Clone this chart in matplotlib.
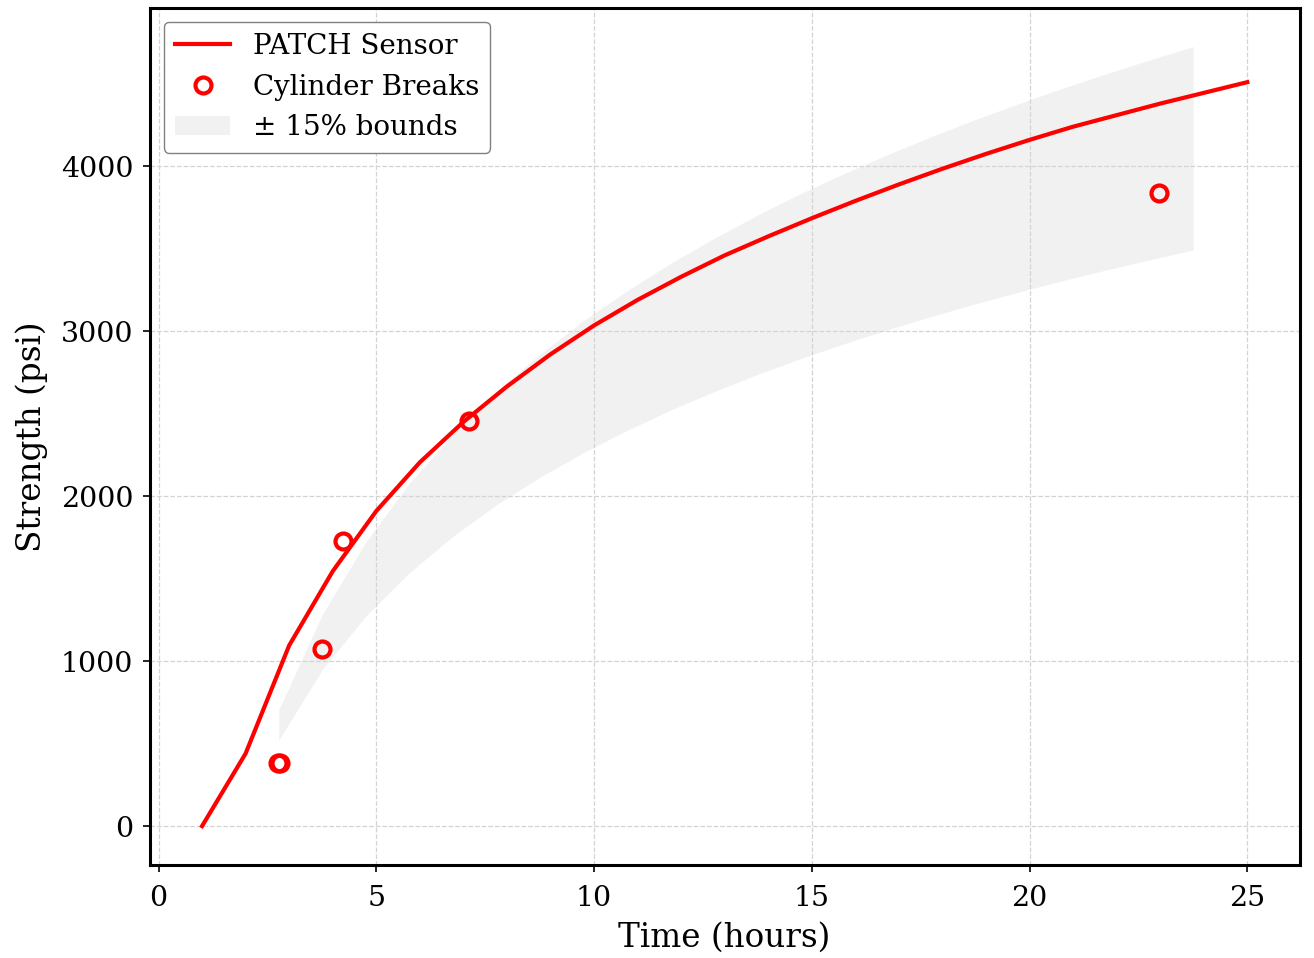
import matplotlib.pyplot as plt

plt.rcParams['font.family'] = 'DejaVu Serif'

# PATCH sensor readings (hours, psi)
sensor_hours = list(range(1, 26))
sensor_psi = [0, 440, 1095, 1545, 1910, 2205, 2450, 2665, 2860, 3035,
              3190, 3330, 3460, 3575, 3685, 3790, 3890, 3985, 4075, 4160,
              4240, 4310, 4380, 4445, 4510]

# cylinder break tests
break_hours = [2.75, 2.8, 3.76, 4.24, 7.12, 22.98]
break_psi = [384, 384, 1071, 1731, 2458, 3840]

# reference curve for the +/- 15% band
band_hours = [2.76, 3.76, 4.76, 5.76, 6.76, 7.76, 8.76, 9.76, 10.76, 11.76,
              12.76, 13.76, 14.76, 15.76, 16.76, 17.76, 18.76, 19.76, 20.76,
              21.76, 22.76, 23.76]
band_psi = [613, 1115, 1498, 1807, 2067, 2292, 2488, 2664, 2822, 2967,
            3099, 3222, 3336, 3442, 3542, 3636, 3725, 3809, 3890, 3966,
            4039, 4109]
tolerance = 0.15

fig, ax = plt.subplots(figsize=(13.14, 9.58), dpi=100)
fig.subplots_adjust(left=0.114, right=0.989, top=0.992, bottom=0.097)

lower = [v * (1 - tolerance) for v in band_psi]
upper = [v * (1 + tolerance) for v in band_psi]
ax.fill_between(band_hours, lower, upper, color='lightgray', alpha=0.3,
                linewidth=0, label='± 15% bounds')
ax.plot(sensor_hours, sensor_psi, color='red', linewidth=3, label='PATCH Sensor')
ax.plot(break_hours, break_psi, linestyle='none', marker='o', markersize=11.5,
        markerfacecolor='none', markeredgecolor='red', markeredgewidth=3,
        label='Cylinder Breaks')

ax.set_xlabel('Time (hours)', fontsize=23.5, labelpad=7)
ax.set_ylabel('Strength (psi)', fontsize=23.5, labelpad=9)
ax.tick_params(labelsize=20.5, width=1.2, length=5, pad=7)
ax.tick_params(axis='x', pad=9)
ax.grid(True, linestyle='--', color='lightgray', linewidth=0.9)
for s in ax.spines.values():
    s.set_linewidth(2.2)

handles, labels = ax.get_legend_handles_labels()
order = [1, 2, 0]
ax.legend([handles[i] for i in order], [labels[i] for i in order],
          loc='upper left', fontsize=20, framealpha=1, edgecolor='gray')

plt.savefig('out.png')
